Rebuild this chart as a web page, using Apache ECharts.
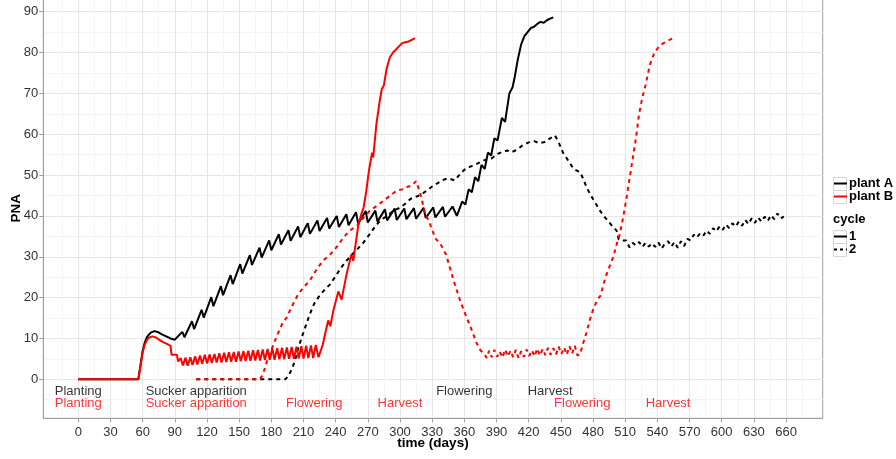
<!DOCTYPE html>
<html>
<head>
<meta charset="utf-8">
<script src="https://cdn.jsdelivr.net/npm/echarts@6/dist/echarts.min.js"></script>
<style>
html,body{margin:0;padding:0;background:#fff;}
#chart{width:896px;height:459px;}
</style>
</head>
<body>
<div id="chart"></div>
<script>
// ---- tick labels ----
var xTicks = [0,30,60,90,120,150,180,210,240,270,300,330,360,390,420,450,480,510,540,570,600,630,660];
var yTicks = [0,10,20,30,40,50,60,70,80,90];

// ---- series: [day, PNA] ----
var plantA_cycle1 = [[0,0],[56,0],[58,3.5],[60,7.0],[62,9.0],[64,10.3],[66,11.0],[68,11.5],[71,11.8],[74,11.6],[78,11.0],[82,10.5],[86,10.0],[90,9.7],
[97,11.6],[99,10.3],[106,14.2],[108,12.3],[115,17.0],[117,15.1],[124,20.1],[126,17.9],[133,22.8],[135,20.6],[142,25.5],[144,23.3],[151,28.2],[153,25.9],[160,30.4],[162,28.0],[169,32.2],[171,29.8],[178,34.0],[180,31.6],[187,35.5],[189,33.0],[196,36.5],[198,33.9],[205,37.4],[207,34.8],[214,38.2],[216,35.6],[223,38.9],[225,36.3],[232,39.5],[234,36.9],[241,40.0],[243,37.3],[250,40.4],[252,37.7],[259,40.9],[261,38.1],[268,41.2],[270,38.4],[277,41.3],[279,38.6],[286,41.6],[288,38.9],[295,41.8],[297,39.0],[304,41.8],[306,39.2],[313,41.9],[315,39.3],[322,42.0],[324,39.5],[331,42.1],[333,39.6],[340,42.2],[342,39.8],[349,42.3],[353,40.0],
[358,43.5],[361,42.8],[364,46.5],[367,45.8],[370,49.5],[373,48.5],[376,52.5],[379,51.5],[382,55.5],[385,54.8],[388,59],[391,58.5],[395,64],[398,63],[402,70],[405,71.5],[407,74],[410,78.5],[413,82],[416,84],[419,85],[422,86],[425,86.3],[428,87],[431,87.5],[434,87.3],[437,87.9],[440,88.3],[443,88.6]];

var plantA_cycle2 = [[110,0],[193,0],[196,0.8],[199,2.5],[202,4.5],[205,7.5],[208,10],[212,13],[216,16],[220,18.5],[225,20.5],[230,22],[235,23.3],[240,25.3],[245,27.3],[250,29],[255,30.5],[260,31.8],[266,33.5],[272,35.6],[277,37.5],[282,39],[288,40],[294,41.3],[300,42],[305,43],[310,44.2],[316,44.8],[320,45.3],[325,46.2],[330,47.2],[335,48],[340,48.8],[345,49.2],[351,48.7],[356,50.2],[360,51.3],[365,52],[370,52.5],[375,53.2],[380,53.8],[385,54],[391,55.2],[396,55.7],[400,56],[404,55.6],[409,56.2],[414,57.2],[420,58],[425,58.3],[430,57.8],[435,58.1],[440,59],[444.5,59.7],[448,58],[452,55.5],[457,53.5],[462,51.5],[468,50.7],[471,49],[474,47],[478,45],[482,43.3],[486,41.5],[490,40],[494,38.8],[498,37.5],[502,36.4],[504,34.2],[508,34.0],[511,34],[514,32.3],[517,33.4],[520,32.8],[523,33.6],[526,32.4],[529,33.4],[532,32.5],[535,33.3],[538,32.4],[541,33.5],[544,32],[547,33.2],[550,33.8],[553,32.5],[556,33.6],[559,32.2],[562,33.8],[565,32.6],[568,34.4],[571,34.0],[574,35.4],[577,34.7],[580,35.8],[583,35.2],[586,36.4],[589,35.6],[592,37.0],[595,36.2],[598,37.4],[601,36.6],[604,37.9],[607,37.0],[610,38.2],[613,37.4],[616,38.6],[619,37.6],[622,39.0],[625,38.0],[628,39.4],[631,38.3],[634,39.6],[637,38.6],[640,39.8],[643,38.8],[646,40.2],[649,39.2],[652,40.6],[655,39.4],[658,39.8]];

var plantB_cycle1 = [[0,0],[56,0],[58,3.2],[60,6.5],[62,8.5],[64,9.6],[66,10.2],[69,10.5],[72,10.3],[76,9.6],[80,9.0],[84,8.5],[86,8.2],[87,6.0],[92,6.0],[93,4.4],
[95.5,5.2],[97.5,3.4],[100,5.3],[102,3.3],[104.5,5.4],[106.5,3.5],[109,5.6],[111,3.6],[113.5,5.8],[115.5,3.8],[118,6.0],[120,3.9],[122.5,6.1],[124.5,4.0],[127,6.2],[129,4.1],[131.5,6.4],[133.5,4.1],[136,6.5],[138,4.2],[140.5,6.6],[142.5,4.3],[145,6.7],[147,4.3],[149.5,6.8],[151.5,4.4],[154,6.9],[156,4.5],[158.5,7.0],[160.5,4.5],[163,7.1],[165,4.6],[167.5,7.2],[169.5,4.6],[172,7.3],[174,4.7],[176.5,7.4],[178.5,4.8],[181,7.5],[183,4.8],[185.5,7.6],[187.5,4.9],[190,7.7],[192,4.9],[194.5,7.8],[196.5,5.0],[199,7.9],[201,5.0],[203.5,8.0],[205.5,5.1],[208,8.1],[210,5.1],[212.5,8.2],[214.5,5.2],[217,8.3],[219,5.2],[221.5,8.4],[224,5.4],
[228,8.5],[233,14.4],[235,13.0],[238,17],[242.5,21.5],[245.5,19.5],[250,25.5],[254.5,30.5],[256.5,29],[258,32],[261,37.5],[264,40.5],[266,42],[268.5,46],[271,51],[274,55.5],[275,54.3],[278,62.5],[281,68],[283,71],[285,72],[287.5,76],[290.5,78.8],[293.5,80],[296.5,80.8],[299,81.5],[302,82.3],[305,82.5],[308,82.7],[311,83.1],[314,83.5]];

var plantB_cycle2 = [[110,0],[169,0],[172,1.0],[176,4.5],[179,6.5],[182,8.5],[185,10.5],[190,13.5],[194.5,15.2],[198,17.2],[201,18.8],[205,20.8],[210,22.5],[216,24.2],[222,26.8],[228,29],[235,30.6],[241,32.4],[247,34.6],[253,36.4],[260,37.6],[266,39.6],[272,41.3],[278,42.4],[284,43.6],[290,44.8],[297,46.2],[302,46.5],[306,47],[311,47.5],[315,48.5],[319,45.5],[323,41],[328,38],[333,34.5],[338,33],[343,30.5],[350,24.2],[356,19.3],[362,15.2],[367,12],[371,9.1],[375,7.1],[379,6.0],
[381,5.2],[383,7.0],[385.5,5.4],[388,7.2],[390.5,5.5],[393,6.8],[395.5,5.3],[398,7.3],[400.5,5.6],[403,7.0],[405.5,5.4],[408,7.2],[410.5,5.2],[413,6.9],[415.5,5.5],[418,7.3],[420.5,5.7],[423,7.1],[425.5,5.6],[428,7.5],[430.5,5.8],[433,7.4],[435.5,5.9],[438,7.7],[440.5,6.0],[443,7.6],[445.5,6.1],[448,8.0],[450.5,6.2],[453,7.8],[455.5,6.0],[458,8.1],[460.5,6.3],[463,8.2],[465.5,5.8],[468,6.2],
[471,9],[474,11.5],[477,14.5],[480,17],[484,19.5],[487,20.5],[490,23.5],[493,26],[496,28],[499,30],[502,33],[505,35.6],[508,39.5],[511,44],[514,49],[517,54],[520,59],[523,65],[526,69],[529,72],[533,77],[537,79.8],[541,81.3],[545,82.2],[550,82.9],[556,83.7]];

// ---- stage annotations ----
var stageDaysA = [0,110,360,440];
var stageTextA = ['Planting','Sucker apparition','Flowering','Harvest'];
var stageDaysB = [0,110,220,300,470,550];
var stageTextB = ['Planting','Sucker apparition','Flowering','Harvest','Flowering','Harvest'];
var stageYA = -2.85, stageYB = -5.95;

var FONT = '"Liberation Sans", Arial, sans-serif';
var BLACK = '#000000', RED = '#ff0000';
var minorX = xTicks.map(function(v){return v - 15;}).concat([675]);
var minorY = yTicks.map(function(v){return v - 5;});
var XMIN = -32.64, XMAX = 694.2, YMIN = -9.55, YMAX = 93.35;

function lineSeries(name, data, color, dashed, z) {
  return {
    name: name, type: 'line', data: data, xAxisIndex: 0, yAxisIndex: 0,
    showSymbol: false, symbol: 'none', z: z, silent: true,
    lineStyle: { color: color, width: 2, type: dashed ? [4, 4] : 'solid' },
    itemStyle: { color: color }
  };
}
function legendSeries(name, color, dashed) {
  return {
    name: name, type: 'line', data: [], symbol: 'none',
    lineStyle: { color: color, width: 2, type: dashed ? [3, 3] : 'solid' },
    itemStyle: { color: 'rgba(0,0,0,0)', borderWidth: 0 }
  };
}
function annot(days, texts, y, color) {
  return {
    type: 'scatter', xAxisIndex: 0, yAxisIndex: 0, silent: true, symbolSize: 1,
    itemStyle: { color: 'rgba(0,0,0,0)' }, z: 5,
    data: days.map(function(d, i){ return { value: [d, y], name: texts[i] }; }),
    label: { show: true, position: 'inside', formatter: '{b}', color: color,
             fontSize: 13, fontFamily: FONT }
  };
}

var chart = echarts.init(document.getElementById('chart'), null, { renderer: 'canvas' });
var gridDef = { left: 43.3, right: 73.3, top: -2, bottom: 40.7, show: true,
                containLabel: false, outerBoundsMode: 'none',
                borderColor: '#a0a0a0', borderWidth: 1, backgroundColor: '#ffffff' };
var legendText = { fontSize: 13, fontWeight: 'bold', color: '#000', fontFamily: FONT, padding: [0,0,0,-3] };
var keyBoxes = [177, 190, 230, 243].map(function(t){
  return { type: 'rect', left: 833, top: t, shape: { width: 13, height: 13 },
           style: { fill: '#fff', stroke: '#d6d6d6', lineWidth: 1 }, z: 90 };
});
chart.setOption({
  animation: false,
  backgroundColor: '#ffffff',
  grid: [gridDef],
  xAxis: [{
    type: 'value', min: XMIN, max: XMAX, gridIndex: 0,
    name: 'time (days)', nameLocation: 'middle', nameGap: 18, nameMoveOverlap: false,
    nameTextStyle: { fontSize: 13.5, fontWeight: 'bold', color: '#000', fontFamily: FONT },
    axisLine: { show: true, onZero: false, lineStyle: { color: '#a0a0a0', width: 1 } },
    axisTick: { show: true, length: 4, customValues: xTicks, lineStyle: { color: '#a0a0a0' } },
    axisLabel: { customValues: xTicks, fontSize: 13, color: '#333', fontFamily: FONT, margin: 8 },
    splitLine: { show: true, lineStyle: { color: '#e6e6e6', width: 1 } }
  }, {
    type: 'value', min: XMIN, max: XMAX, gridIndex: 0, position: 'bottom',
    axisLine: { show: false, onZero: false }, axisLabel: { show: false },
    axisTick: { show: true, length: 0, customValues: minorX, lineStyle: { color: 'rgba(0,0,0,0)' } },
    splitLine: { show: true, lineStyle: { color: '#f4f4f4', width: 1 } }
  }],
  yAxis: [{
    type: 'value', min: YMIN, max: YMAX, gridIndex: 0,
    name: 'PNA', nameLocation: 'middle', nameGap: 20, nameRotate: 90, nameMoveOverlap: false,
    nameTextStyle: { fontSize: 13.5, fontWeight: 'bold', color: '#000', fontFamily: FONT },
    axisLine: { show: true, onZero: false, lineStyle: { color: '#a0a0a0', width: 1 } },
    axisTick: { show: true, length: 4, customValues: yTicks, lineStyle: { color: '#a0a0a0' } },
    axisLabel: { customValues: yTicks, fontSize: 13, color: '#333', fontFamily: FONT, margin: 5 },
    splitLine: { show: true, lineStyle: { color: '#e6e6e6', width: 1 } }
  }, {
    type: 'value', min: YMIN, max: YMAX, gridIndex: 0, position: 'left',
    axisLine: { show: false, onZero: false }, axisLabel: { show: false },
    axisTick: { show: true, length: 0, customValues: minorY, lineStyle: { color: 'rgba(0,0,0,0)' } },
    splitLine: { show: true, lineStyle: { color: '#f4f4f4', width: 1 } }
  }],
  legend: [{
    orient: 'vertical', left: 833, top: 177, itemWidth: 13, itemHeight: 13, itemGap: 0,
    padding: 0, data: ['plant A', 'plant B'], textStyle: legendText, selectedMode: false, z: 100
  }, {
    orient: 'vertical', left: 833, top: 230, itemWidth: 13, itemHeight: 13, itemGap: 0,
    padding: 0, data: ['1', '2'], textStyle: legendText, selectedMode: false, z: 100
  }],
  graphic: keyBoxes.concat([
    { type: 'text', left: 833, top: 213, style: { text: 'cycle', font: 'bold 13px ' + FONT, fill: '#000' } }
  ]),
  series: [
    lineSeries('A1', plantA_cycle1, BLACK, false, 2),
    lineSeries('A2', plantA_cycle2, BLACK, true, 2),
    lineSeries('B1', plantB_cycle1, RED, false, 3),
    lineSeries('B2', plantB_cycle2, RED, true, 3),
    annot(stageDaysA, stageTextA, stageYA, BLACK),
    annot(stageDaysB, stageTextB, stageYB, RED),
    legendSeries('plant A', BLACK, false),
    legendSeries('plant B', RED, false),
    legendSeries('1', BLACK, false),
    legendSeries('2', BLACK, true)
  ]
});
</script>
</body>
</html>
